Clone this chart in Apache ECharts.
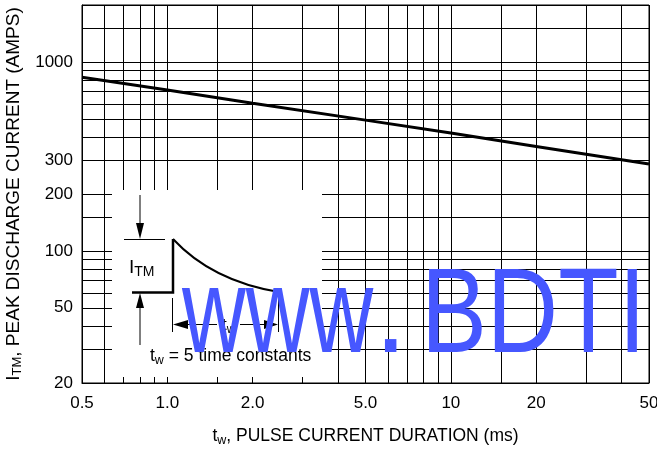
<!DOCTYPE html>
<html>
<head>
<meta charset="utf-8">
<script src="https://cdn.jsdelivr.net/npm/echarts@6/dist/echarts.min.js"></script>
<style>
html,body{margin:0;padding:0;background:#fff;}
#c{width:657px;height:452px;}
</style>
</head>
<body>
<div id="c"></div>
<script>
// Pulse duration (ms) vs peak discharge current (A)
const durations = [0.5, 1, 2, 5, 10, 20, 50];
const peakCurrent = [830, 710, 605, 492, 420, 357, 288];

const xGridValues = [0.5,0.6,0.7,0.8,0.9,1,1.5,2,3,4,5,6,7,8,9,10,15,20,30,40,50];
const yGridValues = [20,30,40,50,60,70,80,90,100,150,200,300,400,500,600,700,800,900,1000,1500,2000];
const xTickLabels = [0.5,1,2,5,10,20,50];
const yTickLabels = [20,50,100,200,300,1000];

const FONT = "'Liberation Sans',Arial,sans-serif";
const BLUE = '#4657FF';

const chart = echarts.init(document.getElementById('c'), null, {renderer:'canvas'});

const sub = (size, subSize) => ({
  a:{fontFamily:FONT,fontSize:size,fill:'#000',color:'#000',verticalAlign:'middle',lineHeight:22},
  b:{fontFamily:FONT,fontSize:subSize,fill:'#000',color:'#000',verticalAlign:'bottom',lineHeight:22}
});

const inset = [
  {type:'rect', z:20, shape:{x:112,y:190,width:210,height:187}, style:{fill:'#fff'}},
  // top arrow
  {type:'line', z:21, shape:{x1:140,y1:195,x2:140,y2:226}, style:{stroke:'#000',lineWidth:1}},
  {type:'polygon', z:21, shape:{points:[[136,223],[144,223],[140,239]]}, style:{fill:'#000'}},
  {type:'line', z:21, shape:{x1:124,y1:239.5,x2:165,y2:239.5}, style:{stroke:'#000',lineWidth:1}},
  // bottom arrow
  {type:'polygon', z:21, shape:{points:[[140,293],[136,308],[144,308]]}, style:{fill:'#000'}},
  {type:'line', z:21, shape:{x1:140,y1:306,x2:140,y2:345}, style:{stroke:'#000',lineWidth:1}},
  // pulse
  {type:'polyline', z:21, shape:{points:[[132,292.5],[173,292.5],[173,239]]}, style:{stroke:'#000',lineWidth:2.5,fill:null}},
  {type:'bezierCurve', z:21, shape:{x1:173,y1:239,cpx1:212,cpy1:281,x2:279,y2:292}, style:{stroke:'#000',lineWidth:2,fill:null}},
  // t_w dimension
  {type:'line', z:21, shape:{x1:172.5,y1:298,x2:172.5,y2:332}, style:{stroke:'#000',lineWidth:1}},
  {type:'line', z:21, shape:{x1:278.5,y1:293,x2:278.5,y2:332}, style:{stroke:'#000',lineWidth:1}},
  {type:'line', z:21, shape:{x1:180,y1:324.5,x2:217,y2:324.5}, style:{stroke:'#000',lineWidth:1}},
  {type:'line', z:21, shape:{x1:240,y1:324.5,x2:272,y2:324.5}, style:{stroke:'#000',lineWidth:1}},
  {type:'polygon', z:21, shape:{points:[[173,324.5],[188,320],[188,329]]}, style:{fill:'#000'}},
  {type:'polygon', z:21, shape:{points:[[278,324.5],[264,320],[264,329]]}, style:{fill:'#000'}},
  {type:'text', z:21, style:{x:222,y:325,text:'{a|t}{b|w}',verticalAlign:'middle',rich:sub(17,12)}},
  {type:'text', z:21, style:{x:129,y:268,text:'{a|I}{b|TM}',verticalAlign:'middle',rich:sub(19,14)}},
  {type:'text', z:21, style:{x:150,y:356,text:'{a|t}{b|w}{a| = 5 time constants}',verticalAlign:'middle',rich:sub(17.5,12.5)}},
  // watermark
  {type:'text', z:30, x:182, y:259, scaleX:0.735, style:{x:0,y:0,text:'www',fontFamily:FONT,fontSize:120,fill:BLUE,verticalAlign:'top'}},
  {type:'text', z:30, x:374, y:259, style:{x:0,y:0,text:'.',fontFamily:FONT,fontSize:120,fill:BLUE,verticalAlign:'top'}},
  {type:'text', z:30, x:421, y:259, scaleX:0.823, style:{x:0,y:0,text:'BDTI',fontFamily:FONT,fontSize:120,fill:BLUE,verticalAlign:'top'}}
];

const option = {
  animation:false,
  backgroundColor:'#fff',
  grid:{left:82,right:8,top:5,bottom:69,containLabel:false,outerBoundsMode:'none',show:true,borderColor:'#000',borderWidth:1,backgroundColor:'transparent'},
  xAxis:{
    type:'log', logBase:10, min:0.5, max:50,
    name:'{a|t}{b|w}{a|, PULSE CURRENT DURATION (ms)}',
    nameLocation:'middle', nameGap:42,
    nameTextStyle:{rich:sub(17.5,12.5)},
    axisLine:{show:true,lineStyle:{color:'#000',width:1}},
    axisTick:{show:false,customValues:xGridValues},
    axisLabel:{customValues:xTickLabels,margin:12,fontFamily:FONT,fontSize:17,color:'#000',
      formatter:v=> v<10 ? Number(v).toFixed(1) : String(Math.round(v))},
    splitLine:{show:true,lineStyle:{color:'#000',width:1}},
    minorSplitLine:{show:false}
  },
  yAxis:{
    type:'log', logBase:10, min:20, max:2000,
    name:'{a|I}{b|TM}{a|, PEAK DISCHARGE CURRENT (AMPS)}',
    nameLocation:'middle', nameGap:44, nameRotate:90,
    nameTextStyle:{rich:sub(19,13)},
    axisLine:{show:true,lineStyle:{color:'#000',width:1}},
    axisTick:{show:false,customValues:yGridValues},
    axisLabel:{customValues:yTickLabels,margin:9,fontFamily:FONT,fontSize:17,color:'#000',
      formatter:v=>String(Math.round(v))},
    splitLine:{show:true,lineStyle:{color:'#000',width:1}}
  },
  series:[{
    type:'line',
    data:durations.map((d,i)=>[d,peakCurrent[i]]),
    symbol:'none',
    lineStyle:{color:'#000',width:3},
    z:5
  }],
  graphic:inset
};
chart.setOption(option);
</script>
</body>
</html>
